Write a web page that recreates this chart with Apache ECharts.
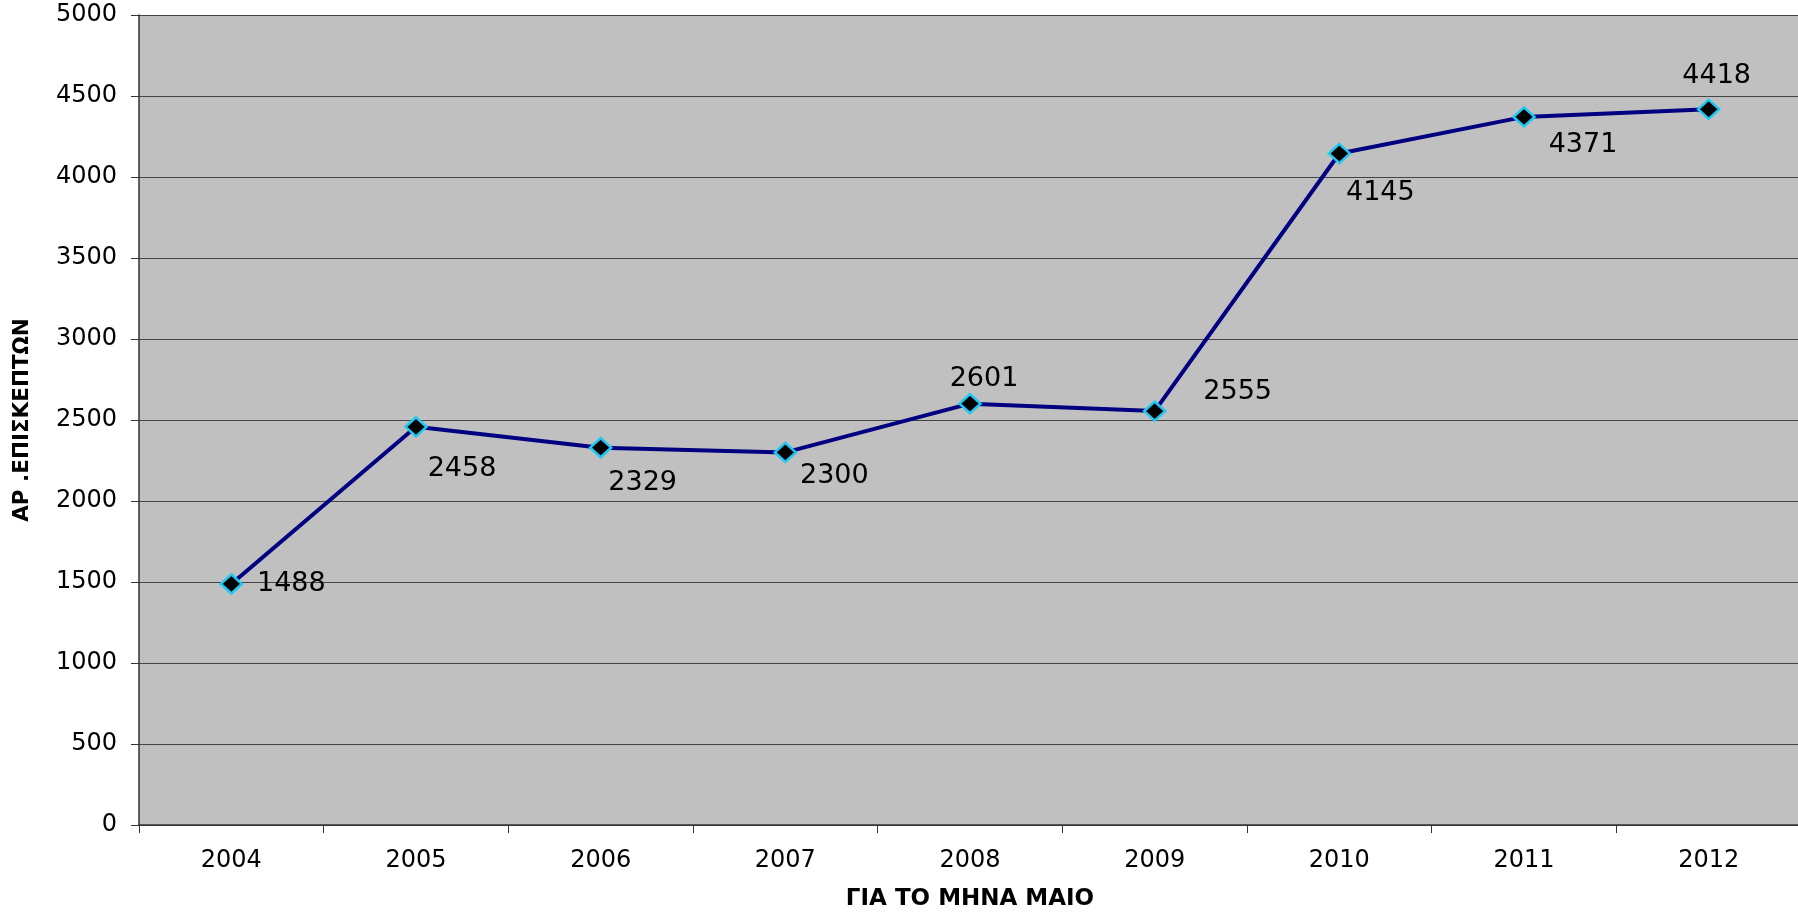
<!DOCTYPE html>
<html>
<head>
<meta charset="utf-8">
<script src="https://cdn.jsdelivr.net/npm/echarts@6/dist/echarts.min.js"></script>
<style>
html,body{margin:0;padding:0;background:#fff;}
#chart{width:1798px;height:918px;}
</style>
</head>
<body>
<div id="chart"></div>
<script>
const categories = ['2004','2005','2006','2007','2008','2009','2010','2011','2012'];
const visitors = [1488, 2458, 2329, 2300, 2601, 2555, 4145, 4371, 4418];
const yAxisTitle = 'ΑΡ .ΕΠΙΣΚΕΠΤΩΝ';
const xAxisTitle = 'ΓΙΑ ΤΟ ΜΗΝΑ ΜΑΙΟ';
// label offsets (style only), relative to each point
const labelOffsets = [[60,0],[46,42],[42,35],[49,24],[14,-25],[83,-19],[41,39],[59,28],[8,-33]];

const chart = echarts.init(document.getElementById('chart'));
const font = 'DejaVu Sans, sans-serif';
chart.setOption({
  animation: false,
  grid: {left: 139, top: 15, width: 1662, height: 810, backgroundColor: '#C0C0C0', show: true, borderWidth: 0, containLabel: false, outerBoundsMode: 'none'},
  xAxis: {
    type: 'category', data: categories, boundaryGap: true,
    name: xAxisTitle, nameLocation: 'middle', nameGap: 63,
    nameTextStyle: {fontFamily: font, fontWeight: 'bold', fontSize: 23, color: '#000'},
    axisLine: {lineStyle: {color: '#333', width: 1.5}},
    axisTick: {show: true, alignWithLabel: false, length: 8, lineStyle: {color: '#333'}},
    axisLabel: {fontFamily: font, fontSize: 24, color: '#000', margin: 24},
    splitLine: {show: false}
  },
  yAxis: {
    type: 'value', min: 0, max: 5000, interval: 500,
    name: yAxisTitle, nameLocation: 'middle', nameGap: 106,
    nameTextStyle: {fontFamily: font, fontWeight: 'bold', fontSize: 21.5, color: '#000'},
    axisLine: {show: true, lineStyle: {color: '#333', width: 1.5}},
    axisTick: {show: true, length: 8, lineStyle: {color: '#333'}},
    axisLabel: {fontFamily: font, fontSize: 24, color: '#000', margin: 22, formatter: v => String(v)},
    splitLine: {show: true, lineStyle: {color: '#444', width: 1.2}}
  },
  series: [{
    type: 'line',
    data: visitors.map((v, i) => ({
      value: v,
      label: {offset: labelOffsets[i]}
    })),
    lineStyle: {color: '#000080', width: 4},
    symbol: 'diamond', symbolSize: [21, 19],
    itemStyle: {color: '#000000', borderColor: '#1EC8F5', borderWidth: 2.5},
    label: {show: true, position: 'inside', fontFamily: font, fontSize: 27, color: '#000', align: 'center', verticalAlign: 'middle'},
    z: 3
  }]
});
</script>
</body>
</html>
